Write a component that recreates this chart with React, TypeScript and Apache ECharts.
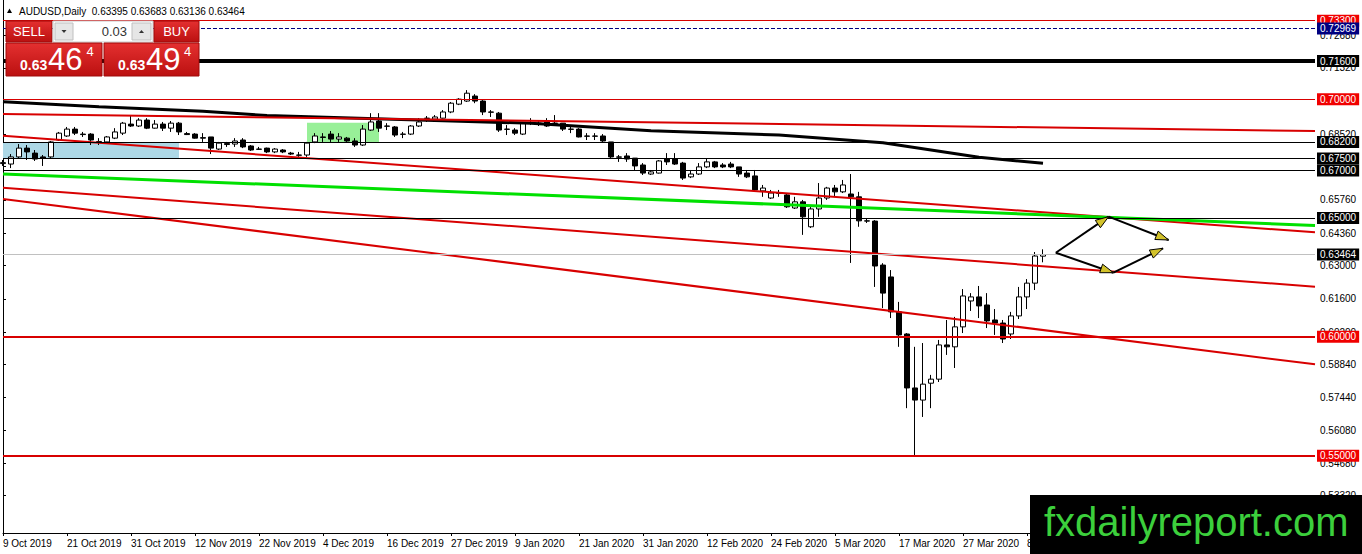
import * as echarts from 'echarts';
import React, { useEffect, useRef } from 'react';

const SYMBOL = 'AUDUSD';
const PERIOD = 'Daily';
const BID = 0.63464;
const ASK = 0.63494;
const LOT = '0.03';

// daily candles, [open, close, low, high]
const ohlc: number[][] = [
  [0.6729, 0.6733, 0.6719, 0.6744], [0.6727, 0.6757, 0.6710, 0.6769], [0.6757, 0.6794, 0.6752, 0.6811],
  [0.6794, 0.6778, 0.6744, 0.6807], [0.6773, 0.6748, 0.6740, 0.6786], [0.6757, 0.6752, 0.6719, 0.6765],
  [0.6757, 0.6820, 0.6752, 0.6824], [0.6828, 0.6857, 0.6824, 0.6862], [0.6845, 0.6874, 0.6841, 0.6883],
  [0.6874, 0.6857, 0.6849, 0.6883], [0.6853, 0.6851, 0.6841, 0.6862], [0.6853, 0.6828, 0.6807, 0.6857],
  [0.6822, 0.6821, 0.6807, 0.6836], [0.6820, 0.6841, 0.6815, 0.6845], [0.6836, 0.6862, 0.6832, 0.6878],
  [0.6857, 0.6899, 0.6849, 0.6904], [0.6895, 0.6887, 0.6883, 0.6929], [0.6887, 0.6912, 0.6883, 0.6920],
  [0.6912, 0.6878, 0.6874, 0.6920], [0.6878, 0.6895, 0.6876, 0.6912], [0.6895, 0.6878, 0.6866, 0.6904],
  [0.6878, 0.6899, 0.6862, 0.6908], [0.6899, 0.6862, 0.6849, 0.6904], [0.6855, 0.6851, 0.6849, 0.6862],
  [0.6853, 0.6836, 0.6834, 0.6857], [0.6838, 0.6836, 0.6820, 0.6857], [0.6841, 0.6794, 0.6769, 0.6841],
  [0.6790, 0.6815, 0.6786, 0.6820], [0.6813, 0.6809, 0.6799, 0.6820], [0.6811, 0.6824, 0.6799, 0.6836],
  [0.6828, 0.6799, 0.6794, 0.6836], [0.6803, 0.6786, 0.6782, 0.6807], [0.6790, 0.6789, 0.6786, 0.6799],
  [0.6794, 0.6778, 0.6773, 0.6796], [0.6778, 0.6790, 0.6773, 0.6794], [0.6786, 0.6778, 0.6773, 0.6790],
  [0.6773, 0.6769, 0.6765, 0.6778], [0.6765, 0.6764, 0.6757, 0.6778], [0.6765, 0.6815, 0.6757, 0.6820],
  [0.6820, 0.6845, 0.6815, 0.6857], [0.6841, 0.6839, 0.6820, 0.6857], [0.6853, 0.6832, 0.6820, 0.6866],
  [0.6832, 0.6841, 0.6820, 0.6857], [0.6836, 0.6824, 0.6820, 0.6841], [0.6824, 0.6807, 0.6799, 0.6836],
  [0.6807, 0.6874, 0.6803, 0.6891], [0.6870, 0.6904, 0.6866, 0.6941], [0.6908, 0.6878, 0.6862, 0.6941],
  [0.6887, 0.6886, 0.6870, 0.6899], [0.6883, 0.6849, 0.6841, 0.6887], [0.6853, 0.6852, 0.6836, 0.6862],
  [0.6853, 0.6887, 0.6849, 0.6891], [0.6887, 0.6904, 0.6883, 0.6920], [0.6920, 0.6919, 0.6904, 0.6929],
  [0.6916, 0.6925, 0.6912, 0.6933], [0.6920, 0.6946, 0.6918, 0.6954], [0.6946, 0.6983, 0.6941, 0.6988],
  [0.6979, 0.7000, 0.6975, 0.7004], [0.6992, 0.7025, 0.6988, 0.7038], [0.7013, 0.6992, 0.6983, 0.7021],
  [0.6992, 0.6946, 0.6933, 0.6996], [0.6946, 0.6945, 0.6925, 0.6954], [0.6941, 0.6870, 0.6862, 0.6946],
  [0.6874, 0.6873, 0.6849, 0.6891], [0.6870, 0.6857, 0.6849, 0.6878], [0.6853, 0.6899, 0.6849, 0.6904],
  [0.6899, 0.6898, 0.6891, 0.6920], [0.6899, 0.6897, 0.6887, 0.6912], [0.6904, 0.6887, 0.6883, 0.6920],
  [0.6899, 0.6898, 0.6887, 0.6933], [0.6899, 0.6874, 0.6866, 0.6899], [0.6874, 0.6873, 0.6857, 0.6883],
  [0.6874, 0.6841, 0.6839, 0.6878], [0.6845, 0.6844, 0.6828, 0.6857], [0.6845, 0.6844, 0.6828, 0.6857],
  [0.6845, 0.6824, 0.6820, 0.6853], [0.6820, 0.6757, 0.6748, 0.6820], [0.6757, 0.6756, 0.6736, 0.6765],
  [0.6761, 0.6748, 0.6736, 0.6773], [0.6752, 0.6719, 0.6702, 0.6752], [0.6723, 0.6689, 0.6681, 0.6731],
  [0.6685, 0.6694, 0.6681, 0.6702], [0.6689, 0.6740, 0.6687, 0.6744], [0.6748, 0.6736, 0.6723, 0.6773],
  [0.6748, 0.6727, 0.6723, 0.6773], [0.6731, 0.6668, 0.6660, 0.6736], [0.6673, 0.6685, 0.6668, 0.6702],
  [0.6685, 0.6715, 0.6681, 0.6731], [0.6715, 0.6736, 0.6710, 0.6752], [0.6736, 0.6715, 0.6710, 0.6740],
  [0.6723, 0.6715, 0.6710, 0.6731], [0.6727, 0.6715, 0.6710, 0.6736], [0.6715, 0.6685, 0.6673, 0.6715],
  [0.6689, 0.6673, 0.6668, 0.6702], [0.6677, 0.6618, 0.6610, 0.6702], [0.6614, 0.6626, 0.6589, 0.6639],
  [0.6584, 0.6605, 0.6580, 0.6618], [0.6605, 0.6604, 0.6589, 0.6618], [0.6597, 0.6547, 0.6542, 0.6605],
  [0.6542, 0.6568, 0.6538, 0.6589], [0.6568, 0.6505, 0.6429, 0.6576], [0.6463, 0.6538, 0.6458, 0.6555],
  [0.6538, 0.6584, 0.6505, 0.6647], [0.6584, 0.6626, 0.6576, 0.6631], [0.6626, 0.6610, 0.6589, 0.6639],
  [0.6610, 0.6639, 0.6605, 0.6660], [0.6601, 0.6589, 0.6311, 0.6685], [0.6589, 0.6488, 0.6463, 0.6610],
  [0.6488, 0.6487, 0.6479, 0.6500], [0.6487, 0.6298, 0.6210, 0.6491], [0.6302, 0.6184, 0.6121, 0.6310],
  [0.6252, 0.6105, 0.6079, 0.6281], [0.6105, 0.6008, 0.5958, 0.6147], [0.6012, 0.5785, 0.5700, 0.6016],
  [0.5785, 0.5734, 0.5503, 0.5958], [0.5734, 0.5801, 0.5663, 0.5974], [0.5805, 0.5822, 0.5700, 0.5840],
  [0.5822, 0.5966, 0.5810, 0.5987], [0.5966, 0.5958, 0.5924, 0.6071], [0.5958, 0.6042, 0.5869, 0.6084],
  [0.6042, 0.6172, 0.6016, 0.6201], [0.6151, 0.6168, 0.6109, 0.6184], [0.6168, 0.6130, 0.6079, 0.6214],
  [0.6134, 0.6067, 0.6037, 0.6184], [0.6071, 0.6058, 0.6008, 0.6117], [0.6058, 0.5991, 0.5974, 0.6071],
  [0.6012, 0.6088, 0.5991, 0.6105], [0.6088, 0.6168, 0.6075, 0.6210], [0.6168, 0.6226, 0.6117, 0.6243],
  [0.6226, 0.6340, 0.6197, 0.6357], [0.63395, 0.63464, 0.63136, 0.63683],
];

const FIRST_DAY = '2019-10-09';
const HOLIDAYS = ['2019-12-25', '2020-01-01'];
const SLOTS = 165; // bars that fit in the window, incl. the empty shift on the right
const MONTHS = ['Jan', 'Feb', 'Mar', 'Apr', 'May', 'Jun', 'Jul', 'Aug', 'Sep', 'Oct', 'Nov', 'Dec'];

const priceTicks = [
  0.7268, 0.7132, 0.6992, 0.6852, 0.6716, 0.6576, 0.6436, 0.63, 0.616, 0.602, 0.5884, 0.5744, 0.5608,
  0.5468, 0.5332,
];
// these two scale labels are fully covered by level tags in the terminal
const coveredTicks = [0.6992, 0.6716];
const PRICE_MIN = 0.51748;
const PRICE_MAX = 0.74171;

// horizontal levels
const levels = [
  { value: 0.733, kind: 'red' },
  { value: 0.72969, kind: 'ask' },
  { value: 0.716, kind: 'heavy' },
  { value: 0.7, kind: 'red' },
  { value: 0.682, kind: 'black' },
  { value: 0.675, kind: 'black' },
  { value: 0.67, kind: 'black' },
  { value: 0.65, kind: 'black' },
  { value: 0.63464, kind: 'bid' },
  { value: 0.6, kind: 'redBold' },
  { value: 0.55, kind: 'redBold' },
];

// trend lines, [bar index, price]
const trendRed1 = [[0, 0.69375], [164, 0.6866]];
const trendRed2 = [[0, 0.68462], [164, 0.64398]];
const trendGreen = [[0, 0.66851], [164, 0.64684]];
const trendRed3 = [[0, 0.66274], [164, 0.62109]];
const trendRed4 = [[0, 0.65799], [164, 0.58845]];

const movingAverage = [
  [0, 0.69892], [12, 0.6968], [25, 0.6949], [33, 0.69312], [66, 0.68984], [81, 0.68673], [97, 0.68492],
  [110, 0.68168], [122, 0.67553], [130, 0.67301],
];

const zones = [
  { from: [0, 0.682], to: [22, 0.675], kind: 'blue' },
  { from: [38, 0.69009], to: [47, 0.682], kind: 'green' },
];

const arrows = [
  [[131.6, 0.6354], [138.2, 0.65055]],
  [[138.2, 0.65055], [145.7, 0.64074]],
  [[131.6, 0.6354], [138.8, 0.62698]],
  [[138.8, 0.62698], [145.0, 0.63725]],
];

const FONT = '"Liberation Sans", Arial, sans-serif';
const RED = '#d80000';

const levelStyle: Record<string, any> = {
  red: { color: RED, width: 1, type: 'solid', tag: '#f00000' },
  ask: { color: '#000080', width: 1, type: 'dashed', tag: '#000080' },
  heavy: { color: '#000', width: 4, type: 'solid', tag: '#000' },
  black: { color: '#000', width: 1, type: 'solid', tag: '#000' },
  bid: { color: '#c0c0c0', width: 1, type: 'solid', tag: '#000' },
  redBold: { color: RED, width: 2, type: 'solid', tag: '#f00000' },
};

const zoneColor: Record<string, string> = { blue: '#add8e6', green: '#98f098' };

function tradingDays(start: string, count: number) {
  const out: string[] = [];
  const d = new Date(start + 'T00:00:00Z');
  while (out.length < count) {
    const iso = d.toISOString().slice(0, 10);
    const wd = d.getUTCDay();
    if (wd !== 0 && wd !== 6 && !HOLIDAYS.includes(iso)) {
      out.push(`${d.getUTCDate()} ${MONTHS[d.getUTCMonth()]} ${d.getUTCFullYear()}`);
    }
    d.setUTCDate(d.getUTCDate() + 1);
  }
  return out;
}

const trendSeries = (data: number[][], color: string, width: number) => ({
  type: 'line',
  xAxisIndex: 1,
  yAxisIndex: 0,
  data,
  symbol: 'none',
  silent: true,
  z: 3,
  lineStyle: { color, width },
});

function buildOption() {
  const dates = tradingDays(FIRST_DAY, SLOTS);
  return {
    animation: false,
    backgroundColor: '#ffffff',
    grid: { left: 3, right: 47, top: 0, bottom: 21, outerBoundsMode: 'none' },
    xAxis: [
      {
        type: 'category',
        data: dates,
        boundaryGap: false,
        axisLine: { show: true, lineStyle: { color: '#000', width: 1 } },
        axisTick: { show: true, interval: 7, length: 3, lineStyle: { color: '#000' } },
        axisLabel: {
          // the labels further right sit under the watermark
          interval: (idx: number) => idx % 8 === 0 && idx < ohlc.length,
          align: 'left',
          margin: 5,
          color: '#000',
          fontSize: 10,
          fontFamily: FONT,
        },
        splitLine: { show: false },
      },
      { type: 'value', min: 0, max: SLOTS - 1, show: false },
    ],
    yAxis: [
      {
        type: 'value',
        position: 'right',
        min: PRICE_MIN,
        max: PRICE_MAX,
        axisLine: { show: true, lineStyle: { color: '#000', width: 1 } },
        axisTick: { show: true, length: 3, customValues: priceTicks, lineStyle: { color: '#000' } },
        axisLabel: {
          customValues: priceTicks.filter((v) => !coveredTicks.includes(v)),
          formatter: (v: number) => v.toFixed(5),
          margin: 5,
          color: '#000',
          fontSize: 10,
          fontFamily: FONT,
        },
        splitLine: { show: false },
      },
      {
        type: 'value',
        position: 'left',
        min: PRICE_MIN,
        max: PRICE_MAX,
        axisLine: { show: true, lineStyle: { color: '#000', width: 1 } },
        axisTick: { show: false },
        axisLabel: { show: false },
        splitLine: { show: false },
      },
    ],
    series: [
      {
        type: 'line',
        xAxisIndex: 1,
        yAxisIndex: 0,
        data: movingAverage,
        symbol: 'none',
        silent: true,
        z: 3,
        lineStyle: { color: '#000', width: 3 },
        markArea: {
          silent: true,
          data: zones.map((zn) => [
            { coord: zn.from, itemStyle: { color: zoneColor[zn.kind], opacity: 1 } },
            { coord: zn.to },
          ]),
        },
      },
      {
        type: 'candlestick',
        data: ohlc,
        barWidth: 5,
        silent: true,
        itemStyle: {
          color: '#ffffff',
          color0: '#000000',
          borderColor: '#000000',
          borderColor0: '#000000',
          borderWidth: 1,
        },
        markLine: {
          silent: true,
          symbol: 'none',
          precision: 6,
          data: levels.map((lv) => {
            const st = levelStyle[lv.kind];
            return {
              yAxis: lv.value,
              lineStyle: { color: st.color, width: st.width, type: st.type },
              label: {
                show: true,
                position: 'end',
                distance: 2,
                formatter: lv.value.toFixed(5),
                color: '#ffffff',
                backgroundColor: st.tag,
                padding: [1, 3, 0, 3],
                lineHeight: 11,
                fontSize: 10,
                fontFamily: FONT,
              },
            };
          }),
        },
      },
      trendSeries(trendRed1, RED, 2),
      trendSeries(trendRed2, RED, 2),
      trendSeries(trendRed3, RED, 2),
      trendSeries(trendRed4, RED, 2),
      trendSeries(trendGreen, '#00e000', 3),
    ],
  };
}

function redFill() {
  return {
    type: 'linear', x: 0, y: 0, x2: 0, y2: 1,
    colorStops: [{ offset: 0, color: '#e43030' }, { offset: 1, color: '#bb1010' }],
  };
}

function tradePanel() {
  const last = ohlc[ohlc.length - 1];
  const header = `${SYMBOL},${PERIOD}  ${[last[0], last[3], last[2], last[1]].map((v) => v.toFixed(5)).join(' ')}`;
  const split = (v: number) => {
    const s = v.toFixed(5);
    return [s.slice(0, 4), s.slice(4, 6), s.slice(6)];
  };
  const [bBig, bMid, bPip] = split(BID);
  const [aBig, aMid, aPip] = split(ASK);
  const Z = 100;
  const txt = (text: string, x: number, y: number, font: string, fill: string, align = 'left') => ({
    type: 'text', x, y, z: Z + 2,
    style: { text, font, fill, textAlign: align, textVerticalAlign: 'middle' },
  });
  return [
    { type: 'polygon', z: Z, shape: { points: [[7, 13], [12, 13], [9.5, 8.5]] }, style: { fill: '#000' } },
    txt(header, 19, 11, `10px ${FONT}`, '#000'),
    { type: 'rect', z: Z, shape: { x: 6, y: 21, width: 46, height: 21 }, style: { fill: redFill(), stroke: '#a00a0a' } },
    txt('SELL', 29, 31.5, `13px ${FONT}`, '#fff', 'center'),
    { type: 'rect', z: Z, shape: { x: 53, y: 21, width: 100, height: 21 }, style: { fill: '#fff', stroke: '#c8c8c8' } },
    { type: 'rect', z: Z + 1, shape: { x: 55, y: 23, width: 18, height: 17 }, style: { fill: '#e6e6e6', stroke: '#c0c0c0' } },
    { type: 'polygon', z: Z + 2, shape: { points: [[61.5, 30], [66.5, 30], [64, 33]] }, style: { fill: '#333' } },
    txt(LOT, 127, 31.5, `13px ${FONT}`, '#333', 'right'),
    { type: 'rect', z: Z + 1, shape: { x: 132, y: 23, width: 19, height: 17 }, style: { fill: '#e6e6e6', stroke: '#c0c0c0' } },
    { type: 'polygon', z: Z + 2, shape: { points: [[139, 33], [144, 33], [141.5, 30]] }, style: { fill: '#333' } },
    { type: 'rect', z: Z, shape: { x: 154, y: 21, width: 45, height: 21 }, style: { fill: redFill(), stroke: '#a00a0a' } },
    txt('BUY', 176.5, 31.5, `13px ${FONT}`, '#fff', 'center'),
    { type: 'rect', z: Z, shape: { x: 6, y: 43, width: 96, height: 33 }, style: { fill: redFill(), stroke: '#a00a0a' } },
    { type: 'rect', z: Z, shape: { x: 104, y: 43, width: 95, height: 33 }, style: { fill: redFill(), stroke: '#a00a0a' } },
    txt(bBig, 20, 65, `bold 14px ${FONT}`, '#fff'),
    txt(bMid, 48, 59, `31px ${FONT}`, '#fff'),
    txt(bPip, 86.5, 51, `13px ${FONT}`, '#fff'),
    txt(aBig, 118, 65, `bold 14px ${FONT}`, '#fff'),
    txt(aMid, 146, 59, `31px ${FONT}`, '#fff'),
    txt(aPip, 184, 51, `13px ${FONT}`, '#fff'),
    { type: 'rect', z: Z, shape: { x: 1030, y: 495, width: 332, height: 59 }, style: { fill: '#000' } },
    txt('fxdailyreport.com', 1044, 522, `40px ${FONT}`, '#3ccf3c'),
  ];
}

function arrowShapes(chart: echarts.ECharts) {
  const out: any[] = [];
  arrows.forEach(([from, to]) => {
    const a = chart.convertToPixel({ seriesIndex: 0 }, from) as number[];
    const b = chart.convertToPixel({ seriesIndex: 0 }, to) as number[];
    const dx = b[0] - a[0];
    const dy = b[1] - a[1];
    const len = Math.hypot(dx, dy);
    const ux = dx / len;
    const uy = dy / len;
    const bx = b[0] - ux * 13;
    const by = b[1] - uy * 13;
    out.push({
      type: 'line', z: 60,
      shape: { x1: a[0], y1: a[1], x2: b[0], y2: b[1] },
      style: { stroke: '#000', lineWidth: 2 },
    });
    out.push({
      type: 'polygon', z: 61,
      shape: { points: [[b[0], b[1]], [bx - uy * 4.5, by + ux * 4.5], [bx + uy * 4.5, by - ux * 4.5]] },
      style: { fill: '#d2c22a', stroke: '#000', lineWidth: 1 },
    });
  });
  return out;
}

const App = () => {
  const chartRef = useRef<HTMLDivElement>(null);

  useEffect(() => {
    if (!chartRef.current) return;
    const chart = echarts.init(chartRef.current, undefined, { renderer: 'svg' });
    chart.setOption(buildOption() as any);
    // arrows sit on price/time points, so place them after layout
    chart.setOption({ graphic: [...arrowShapes(chart), ...tradePanel()] } as any);
    return () => chart.dispose();
  }, []);

  return (
    <div
      ref={chartRef}
      style={{ position: 'fixed', left: 0, top: 0, width: 1362, height: 554, background: '#fff' }}
    />
  );
};

export default App;
